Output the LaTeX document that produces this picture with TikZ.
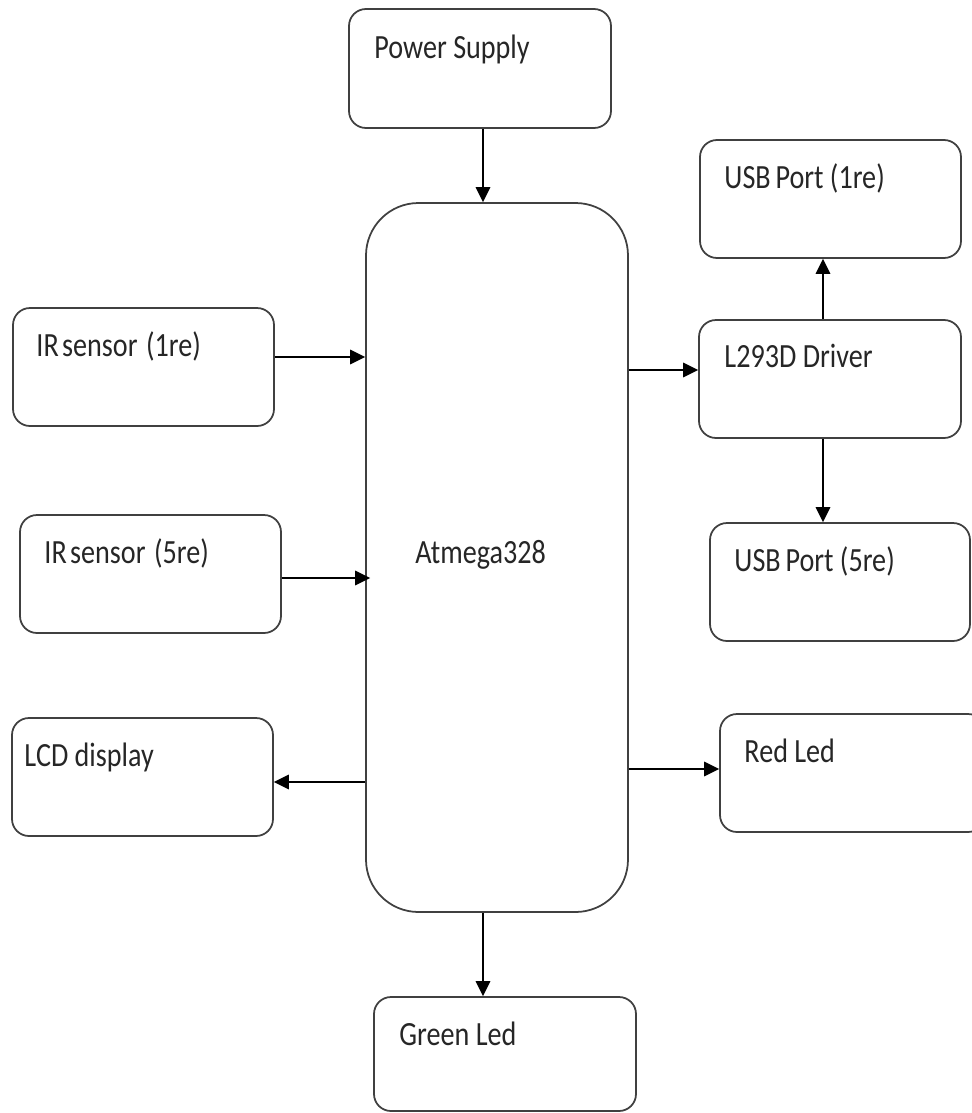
\documentclass[tikz,border=0pt]{standalone}
\usepackage{fontspec}
\setmainfont{Carlito}
\usetikzlibrary{arrows.meta,fit}
\newcommand\lbltxt[1]{\scalebox{0.83}[1]{#1}}
\begin{document}
\begin{tikzpicture}[x=0.02cm,y=-0.02cm,
  box/.style={draw=black!75, line width=1pt, rounded corners=0.34cm, inner sep=0pt},
  bigbox/.style={box, rounded corners=1.05cm},
  lbl/.style={anchor=base west, inner sep=0pt, text=black!85, font=\fontsize{19.3}{23}\selectfont},
  arr/.style={draw=black, line width=1pt, -{Triangle[length=0.3cm,width=0.29cm]}}]
\useasboundingbox (0,0) rectangle (972,1113);
% boxes
\node[box, fit={(349,9) (611,128)}] (ps) {};
\node[bigbox, fit={(366,203) (628,912)}] (atm) {};
\node[box, fit={(700,140) (961,258)}] (usb1) {};
\node[box, fit={(699,320) (961,438)}] (drv) {};
\node[box, fit={(710,523) (970,641)}] (usb5) {};
\node[box, fit={(720,714) (985,832)}] (red) {};
\node[box, fit={(13,308) (274,426)}] (ir1) {};
\node[box, fit={(20,515) (281,633)}] (ir5) {};
\node[box, fit={(12,718) (273,836)}] (lcd) {};
\node[box, fit={(374,997) (636,1111)}] (green) {};
% labels
\node[lbl] (tps) at ([shift={(26,50)}]ps.north west) {\lbltxt{Power Supply}};
\node[lbl] (tatm) at (415,563) {\lbltxt{Atmega328}};
\node[lbl] (tusb1) at ([shift={(25,49)}]usb1.north west) {\lbltxt{USB\hspace{0.17em}Port (1re)}};
\node[lbl] (tdrv) at ([shift={(26,48)}]drv.north west) {\lbltxt{L293D Driver}};
\node[lbl] (tusb5) at ([shift={(25,49)}]usb5.north west) {\lbltxt{USB\hspace{0.17em}Port (5re)}};
\node[lbl] (tred) at ([shift={(25,49)}]red.north west) {\lbltxt{Red Led}};
\node[lbl] (tir1) at ([shift={(24,49)}]ir1.north west) {\lbltxt{IR\hspace{0.12em}sensor\hspace{0.3em}(1re)}};
\node[lbl] (tir5) at ([shift={(25,49)}]ir5.north west) {\lbltxt{IR\hspace{0.12em}sensor\hspace{0.3em}(5re)}};
\node[lbl] (tlcd) at ([shift={(13,49)}]lcd.north west) {\lbltxt{LCD display}};
\node[lbl] (tgreen) at ([shift={(26,49)}]green.north west) {\lbltxt{Green Led}};
% connectors
\draw[arr] (ps.south -| 483,0) -- (atm.north -| 483,0);
\draw[arr] (ir1.east |- 0,357) -- (atm.west |- 0,357);
\draw[arr] (ir5.east |- 0,578) -- ([xshift=0.1cm]atm.west |- 0,578);
\draw[arr] (atm.west |- 0,782) -- (lcd.east |- 0,782);
\draw[arr] (atm.east |- 0,370) -- (drv.west |- 0,370);
\draw[arr] (drv.north -| 823,0) -- (usb1.south -| 823,0);
\draw[arr] (drv.south -| 823,0) -- (usb5.north -| 823,0);
\draw[arr] (atm.east |- 0,769) -- (red.west |- 0,769);
\draw[arr] (atm.south -| 483,0) -- (green.north -| 483,0);
\end{tikzpicture}
\end{document}
